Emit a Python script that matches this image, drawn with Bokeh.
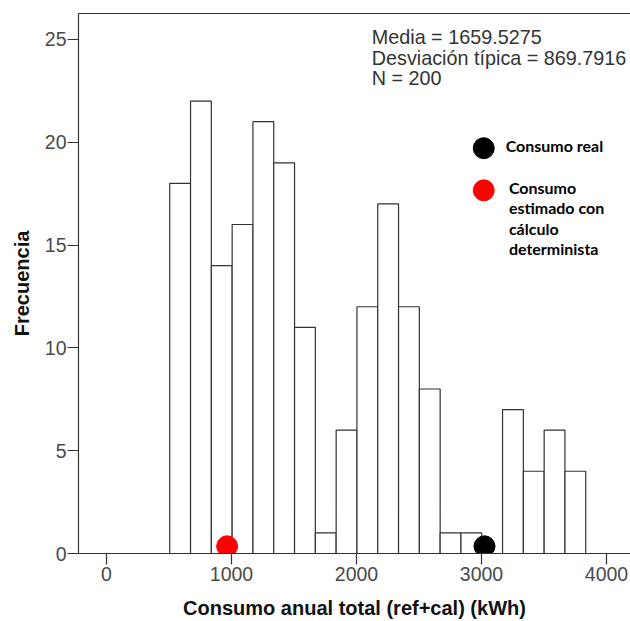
from bokeh.plotting import figure
from bokeh.models import LinearAxis, FixedTicker, Label, Range1d
from bokeh.embed import file_html
from bokeh.resources import INLINE

# ---- data ----
counts = [18, 22, 14, 16, 21, 19, 11, 1, 6, 12, 17, 12, 8, 1, 1, 0, 7, 4, 6, 4]
bin_start = 506.0
bin_width = 166.4
x_ticks = [0, 1000, 2000, 3000, 4000]
y_ticks = [0, 5, 10, 15, 20, 25]
stats_lines = ["Media = 1659.5275", "Desviación típica = 869.7916", "N = 200"]
point_names = ["Consumo real", "Consumo estimado con cálculo determinista"]
point_values = [3024, 965]
point_colors = ["#000000", "#ff0000"]
legend_lines = [["Consumo real"], ["Consumo", "estimado con", "cálculo", "determinista"]]

lefts = [bin_start + i * bin_width for i in range(len(counts))]
rights = [l + bin_width for l in lefts]

AX = "#333333"
p = figure(width=630, height=621, x_range=Range1d(-224, 4192), y_range=Range1d(0, 26.26),
           output_backend="svg", toolbar_location=None,
           min_border_left=78, min_border_right=0, min_border_top=13, min_border_bottom=68)
p.outline_line_color = None
p.xgrid.visible = False
p.ygrid.visible = False
p.background_fill_color = "white"
p.border_fill_color = "white"

p.quad(left=lefts, right=rights, bottom=0, top=counts, fill_color="white",
       line_color=AX, line_width=1.2)
p.scatter(x=point_values, y=[0.35, 0.35], size=21, fill_color=point_colors,
          line_color=point_colors)

for ax in (p.xaxis[0], p.yaxis[0]):
    ax.axis_line_color = AX
    ax.axis_line_width = 1.2
    ax.major_tick_line_color = AX
    ax.major_tick_line_width = 1.2
    ax.major_tick_in = 0
    ax.major_tick_out = 11
    ax.minor_tick_line_color = None
    ax.major_label_text_font = "Liberation Sans"
    ax.major_label_text_font_size = "19.5px"
    ax.major_label_text_color = "#4a4a4a"
    ax.major_label_standoff = 2
    ax.axis_label_text_font = "Liberation Sans"
    ax.axis_label_text_font_style = "bold"
    ax.axis_label_text_font_size = "20px"
    ax.axis_label_text_color = "#111111"

p.xaxis.ticker = FixedTicker(ticks=x_ticks)
p.yaxis.ticker = FixedTicker(ticks=y_ticks)
p.yaxis.major_label_standoff = 1
p.xaxis.axis_label = "Consumo anual total (ref+cal) (kWh)"
p.yaxis.axis_label = "Frecuencia"
p.xaxis.axis_label_standoff = 13
p.yaxis.axis_label_standoff = 9

top = LinearAxis(ticker=FixedTicker(ticks=[]), major_label_text_font_size="0px",
                 axis_line_color=AX, axis_line_width=1.2,
                 major_tick_line_color=None, minor_tick_line_color=None)
p.add_layout(top, "above")

# stats text
for i, t in enumerate(stats_lines):
    p.add_layout(Label(x=2122, y=25.11 - i * 0.99, text=t, text_baseline="middle",
                       text_font="Liberation Sans", text_font_size="19.8px",
                       text_color="#333333"))

# legend (manual)
legend_y = [19.71, 17.66]
p.scatter(x=[3018, 3018], y=legend_y, size=21, fill_color=point_colors,
          line_color=point_colors)
text_x = [3193, 3219]
text_y = [19.84, 17.82]
for k, lines in enumerate(legend_lines):
    for i, t in enumerate(lines):
        p.add_layout(Label(x=text_x[k], y=text_y[k] - i * 1.0, text=t,
                           text_baseline="middle", text_font="Lato",
                           text_font_style="bold", text_font_size="16px",
                           text_color="#000000"))

open("out.html", "w").write(file_html(p, INLINE))
